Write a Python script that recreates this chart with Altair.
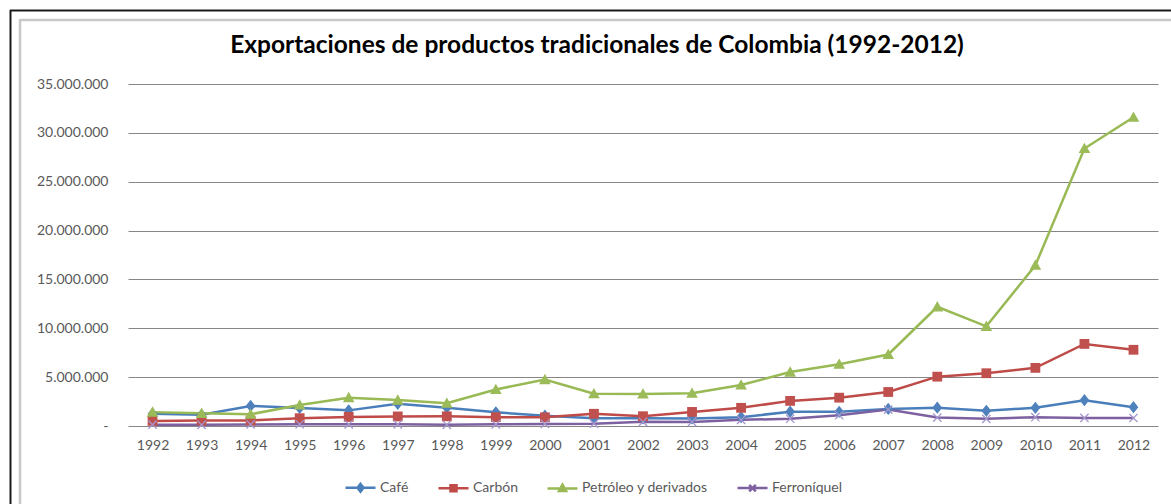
import altair as alt
import pandas as pd

years = [str(y) for y in range(1992, 2013)]
series = ["Café", "Carbón", "Petróleo y derivados", "Ferroníquel"]

cafe = [1250000, 1150000, 2050000, 1850000, 1600000, 2270000, 1880000, 1400000, 1050000, 800000,
        790000, 780000, 900000, 1460000, 1450000, 1740000, 1870000, 1560000, 1860000, 2640000, 1920000]
carbon = [520000, 560000, 560000, 800000, 930000, 980000, 990000, 900000, 890000, 1250000,
          1000000, 1440000, 1860000, 2570000, 2900000, 3480000, 5050000, 5400000, 5950000, 8400000, 7800000]
petroleo = [1420000, 1300000, 1200000, 2150000, 2900000, 2650000, 2330000, 3740000, 4750000, 3300000,
            3280000, 3350000, 4200000, 5520000, 6320000, 7320000, 12200000, 10200000, 16450000, 28400000, 31600000]
ferroniquel = [140000, 120000, 160000, 180000, 170000, 170000, 120000, 170000, 210000, 240000,
               430000, 420000, 630000, 740000, 1100000, 1680000, 860000, 730000, 900000, 830000, 820000]

line_colors = ["#4A7EBB", "#BE4B48", "#98B954", "#7D60A0"]
marker_colors = ["#4F81BD", "#C0504D", "#9BBB59", "#A596CE"]

marker_paths = [
    "M0,-1L0.8,0L0,1L-0.8,0Z",
    "M-0.8,-0.8H0.8V0.8H-0.8Z",
    "M0,-0.95L0.95,0.75L-0.95,0.75Z",
    "M-0.75,-0.6L-0.6,-0.75L0,-0.15L0.6,-0.75L0.75,-0.6L0.15,0L0.75,0.6L0.6,0.75L0,0.15L-0.6,0.75L-0.75,0.6L-0.15,0Z",
]
legend_paths = [
    "M-1,0H1M0,-0.26L0.2,0L0,0.26L-0.2,0Z",
    "M-1,0H1M-0.2,-0.2H0.2V0.2H-0.2Z",
    "M-1,0H1M0,-0.26L0.24,0.18L-0.24,0.18Z",
    "M-1,0H1M-0.22,-0.22L0.22,0.22M-0.22,0.22L0.22,-0.22",
]

values_by_series = [cafe, carbon, petroleo, ferroniquel]
rows = []
for s, vals in zip(series, values_by_series):
    for y, v in zip(years, vals):
        rows.append({"Año": y, "Serie": s, "Valor": v})
df = pd.DataFrame(rows)

FONT = "Lato"
TEXT = "#595959"
GRID = "#868686"

x_enc = alt.X("Año:O", sort=years, scale=alt.Scale(type="point", padding=0.5),
              axis=alt.Axis(title=None, labelAngle=0, domain=False, ticks=False, grid=False,
                            labelPadding=12, labelFont=FONT, labelFontSize=14, labelColor=TEXT))
y_enc = alt.Y("Valor:Q", scale=alt.Scale(domain=[0, 35000000], nice=False),
              axis=alt.Axis(title=None, values=[0, 5000000, 10000000, 15000000, 20000000, 25000000, 30000000, 35000000],
                            labelExpr="datum.value == 0 ? '-\u00a0\u00a0' : replace(format(datum.value, ',.0f'), regexp(',', 'g'), '.')",
                            grid=True, gridColor=GRID, gridWidth=1, domain=False, ticks=False,
                            labelPadding=20, labelFont=FONT, labelFontSize=14, labelColor=TEXT))

base = alt.Chart(df)

lines = base.mark_line(strokeWidth=2.5).encode(
    x=x_enc, y=y_enc,
    color=alt.Color("Serie:N", scale=alt.Scale(domain=series, range=line_colors), legend=None),
)

points = base.mark_point(filled=True, size=150, opacity=1).encode(
    x=x_enc, y=y_enc,
    color=alt.Color("Serie:N", scale=alt.Scale(domain=series, range=marker_colors), legend=None),
    shape=alt.Shape("Serie:N", scale=alt.Scale(domain=series, range=marker_paths), legend=None),
)

leg = dict(orient="none", legendX=216, legendY=387, direction="horizontal", title=None,
           labelFont=FONT, labelFontSize=14, labelColor=TEXT, symbolSize=900,
           symbolStrokeWidth=2.5, labelOffset=3, columnPadding=24)

legend_layer = base.transform_filter("false").mark_point(filled=True, size=900, strokeWidth=2.5, opacity=1).encode(
    x=x_enc, y=y_enc,
    color=alt.Color("Serie:N", scale=alt.Scale(domain=series, range=marker_colors), legend=alt.Legend(**leg)),
    stroke=alt.Stroke("Serie:N", scale=alt.Scale(domain=series, range=line_colors), legend=alt.Legend(**leg)),
    shape=alt.Shape("Serie:N", scale=alt.Scale(domain=series, range=legend_paths), legend=alt.Legend(**leg)),
)

one = pd.DataFrame({"k": [0]})
border_black_left = alt.Chart(one).mark_rule(color="#1a1a1a", strokeWidth=2).encode(
    x=alt.value(-117.5), y=alt.value(-74), y2=alt.value(440))
border_black_top = alt.Chart(one).mark_rule(color="#1a1a1a", strokeWidth=2).encode(
    x=alt.value(-118), x2=alt.value(1050), y=alt.value(-73.5))
border_gray_left = alt.Chart(one).mark_rule(color="#c8c8c8", strokeWidth=2.5).encode(
    x=alt.value(-108), y=alt.value(-65), y2=alt.value(440))
border_gray_top = alt.Chart(one).mark_rule(color="#c8c8c8", strokeWidth=2.5).encode(
    x=alt.value(-108), x2=alt.value(1050), y=alt.value(-64))

chart = alt.layer(
    border_black_left, border_black_top, border_gray_left, border_gray_top,
    lines, points, legend_layer,
).resolve_scale(
    color="independent", shape="independent", stroke="independent"
).properties(
    width=1030, height=342,
    title=alt.TitleParams(
        "Exportaciones de productos tradicionales de Colombia (1992-2012)",
        font=FONT, fontSize=24.5, fontWeight="bold", color="#000000",
        anchor="middle", dx=-46, dy=67, offset=18,
    ),
    autosize=alt.AutoSizeParams(type="none"),
    padding={"left": 128, "top": 84, "right": 13, "bottom": 78},
    background="white",
).configure_view(strokeWidth=0)

chart.save("out.html", embed_options={"renderer": "svg", "actions": False})
